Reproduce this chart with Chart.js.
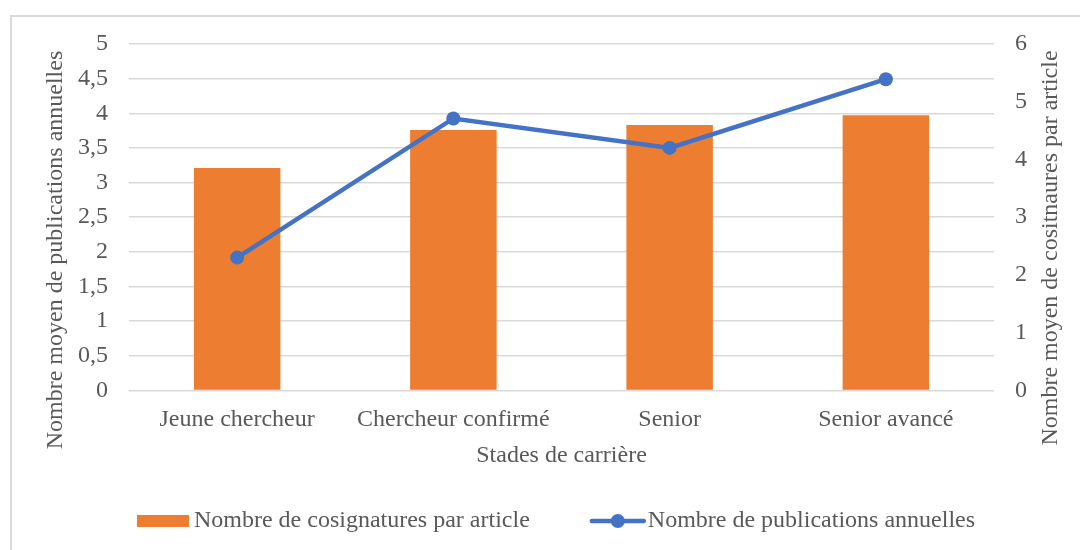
<!DOCTYPE html>
<html>
<head>
<meta charset="utf-8">
<script src="https://cdn.jsdelivr.net/npm/chart.js"></script>
<style>
  html, body { margin: 0; padding: 0; background: #fff; }
  #wrap { width: 1080px; height: 550px; }
</style>
</head>
<body>
<div id="wrap"><canvas id="careerChart" width="1080" height="550"></canvas></div>
<script>
const stages = ['Jeune chercheur', 'Chercheur confirmé', 'Senior', 'Senior avancé'];
const cosignatures = [3.21, 3.76, 3.83, 3.97];
const publications = [2.3, 4.71, 4.2, 5.39];
const leftAxisTicks = { min: 0, max: 5, step: 0.5 };
const rightAxisTicks = { min: 0, max: 6, step: 1 };

const leftTitle = 'Nombre moyen de publications annuelles';
const rightTitle = 'Nombre moyen de cositnaures par article';
const xTitle = 'Stades de carrière';

const serif = "'Liberation Serif', 'Times New Roman', serif";
const textColor = '#595959';
const gridColor = '#d9d9d9';
const orange = '#ED7D31';
const blue = '#4472C4';

// frame, vertical axis titles (both read bottom to top) and the legend
const extras = {
  id: 'extras',
  beforeDraw(chart) {
    const ctx = chart.ctx;
    ctx.save();
    ctx.fillStyle = '#fff';
    ctx.fillRect(0, 0, chart.width, chart.height);
    ctx.strokeStyle = gridColor;
    ctx.lineWidth = 2;
    ctx.strokeRect(11, 16, chart.width + 20, chart.height + 20);
    ctx.restore();
  },
  afterDraw(chart) {
    const ctx = chart.ctx;
    const y = chart.scales.y, y1 = chart.scales.y1;
    ctx.save();
    ctx.font = '24px ' + serif;
    ctx.fillStyle = textColor;
    ctx.textAlign = 'center';
    ctx.textBaseline = 'middle';

    ctx.save();
    ctx.translate(y.left + 22, 250);
    ctx.rotate(-Math.PI / 2);
    ctx.fillText(leftTitle, 0, 0);
    ctx.restore();

    ctx.save();
    ctx.translate(y1.left + 57, 248);
    ctx.rotate(-Math.PI / 2);
    ctx.fillText(rightTitle, 0, 0);
    ctx.restore();

    // legend
    const ds = chart.data.datasets;
    const ly = 521;
    const w1 = ctx.measureText(ds[0].label).width;
    const w2 = ctx.measureText(ds[1].label).width;
    const total = 52 + 5 + w1 + 60 + 56 + 2 + w2;
    let x = 556 - total / 2;
    ctx.textAlign = 'left';
    ctx.fillStyle = ds[0].backgroundColor;
    ctx.fillRect(x, ly - 6, 52, 12);
    x += 57;
    ctx.fillStyle = textColor;
    ctx.fillText(ds[0].label, x, ly);
    x += w1 + 60;
    ctx.strokeStyle = ds[1].borderColor;
    ctx.lineWidth = 4.5;
    ctx.lineCap = 'round';
    ctx.beginPath();
    ctx.moveTo(x + 2, ly);
    ctx.lineTo(x + 54, ly);
    ctx.stroke();
    ctx.fillStyle = ds[1].borderColor;
    ctx.beginPath();
    ctx.arc(x + 28, ly, 7, 0, Math.PI * 2);
    ctx.fill();
    x += 58;
    ctx.fillStyle = textColor;
    ctx.fillText(ds[1].label, x, ly);
    ctx.restore();
  }
};

const ctx = document.getElementById('careerChart').getContext('2d');
new Chart(ctx, {
  type: 'bar',
  data: {
    labels: stages,
    datasets: [{
      type: 'bar',
      label: 'Nombre de cosignatures par article',
      data: cosignatures,
      backgroundColor: orange,
      barPercentage: 0.4,
      categoryPercentage: 1.0,
      yAxisID: 'y',
      order: 2
    }, {
      type: 'line',
      label: 'Nombre de publications annuelles',
      data: publications,
      borderColor: blue,
      backgroundColor: blue,
      borderWidth: 4.5,
      pointRadius: 7,
      pointHoverRadius: 7,
      pointBackgroundColor: blue,
      pointBorderWidth: 0,
      tension: 0,
      yAxisID: 'y1',
      order: 1
    }]
  },
  options: {
    responsive: false,
    animation: false,
    devicePixelRatio: 1,
    layout: { padding: { left: 34, right: 5, top: 44, bottom: 78 } },
    plugins: {
      legend: { display: false },
      tooltip: { enabled: false }
    },
    scales: {
      x: {
        grid: { display: false },
        border: { display: false },
        ticks: { color: textColor, font: { family: serif, size: 24 }, padding: 7, maxRotation: 0 },
        title: {
          display: true,
          text: xTitle,
          color: textColor,
          font: { family: serif, size: 24 },
          padding: { top: 0, bottom: 2 }
        }
      },
      y: {
        position: 'left',
        min: leftAxisTicks.min,
        max: leftAxisTicks.max,
        grid: { color: gridColor, lineWidth: 1.5, drawTicks: false },
        border: { display: false },
        ticks: {
          stepSize: leftAxisTicks.step,
          color: textColor,
          font: { family: serif, size: 24 },
          padding: 21,
          callback: (v) => String(v).replace('.', ',')
        },
        afterFit: (scale) => { scale.width += 23; }
      },
      y1: {
        position: 'right',
        min: rightAxisTicks.min,
        max: rightAxisTicks.max,
        grid: { display: false, drawTicks: false },
        border: { display: false },
        ticks: {
          stepSize: rightAxisTicks.step,
          color: textColor,
          font: { family: serif, size: 24 },
          padding: 21
        },
        afterFit: (scale) => { scale.width += 27; }
      }
    }
  },
  plugins: [extras]
});
</script>
</body>
</html>
